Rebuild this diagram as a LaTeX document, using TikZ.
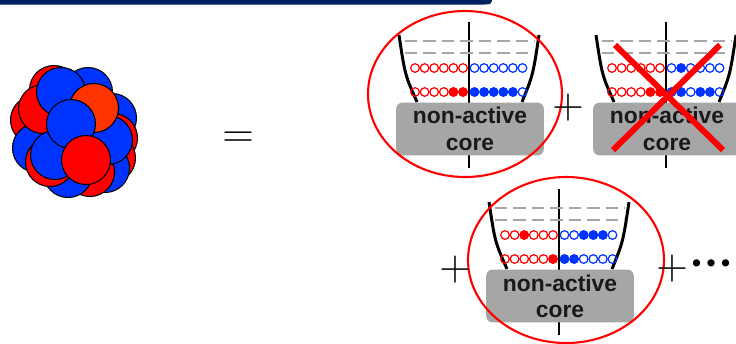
\documentclass[tikz,border=0pt]{standalone}
\usepackage{fontspec}
\setsansfont{Liberation Sans}
\newfontfamily\dotfont{DejaVu Sans}
\definecolor{navy}{RGB}{0,32,96}
\definecolor{nucred}{RGB}{255,0,0}
\definecolor{nucblue}{RGB}{0,51,255}
\definecolor{nucorange}{RGB}{255,51,0}
\definecolor{coregray}{RGB}{166,166,166}

% one configuration: oscillator wall, two open shells, inert core
% #1 name, #2/#3 top of the wall, #4..#7 occupations (red/blue upper, red/blue lower)
\newcommand{\config}[7]{%
  \coordinate (#1) at (#2,#3);
  \draw[axis] (#2,#3-13) -- (#2,#3+133);
  \draw[wall] (#2-70,#3) .. controls (#2-64,#3+40) .. (#2-52,#3+67);
  \draw[wall] (#2+70,#3) .. controls (#2+64,#3+40) .. (#2+53,#3+67);
  \draw[lvl] (#2-64,#3+6) -- (#2+66,#3+6);
  \draw[lvl] (#2-64,#3+18) -- (#2+66,#3+18);
  \foreach \f [count=\i from 0] in {#4} {
    \ifnum\f=1 \fill[nucred] (#2-54+\i*9.6,#3+33) circle (4.3); \fi
    \draw[rorb] (#2-54+\i*9.6,#3+33) circle (4.3);
  }
  \foreach \f [count=\i from 0] in {#5} {
    \ifnum\f=1 \fill[nucblue] (#2+5.5+\i*9.6,#3+33) circle (4.3); \fi
    \draw[borb] (#2+5.5+\i*9.6,#3+33) circle (4.3);
  }
  \foreach \f [count=\i from 0] in {#6} {
    \ifnum\f=1 \fill[nucred] (#2-54+\i*9.6,#3+57) circle (4.3); \fi
    \draw[rorb] (#2-54+\i*9.6,#3+57) circle (4.3);
  }
  \foreach \f [count=\i from 0] in {#7} {
    \ifnum\f=1 \fill[nucblue] (#2+5.5+\i*9.6,#3+57) circle (4.3); \fi
    \draw[borb] (#2+5.5+\i*9.6,#3+57) circle (4.3);
  }
  \node[core] (#1core) at (#2+1,#3+94) {non-active\\core};
}

\begin{document}
\begin{tikzpicture}[x=0.02cm, y=-0.02cm,
  nucleon/.style={draw=black, line width=0.6pt},
  axis/.style={line width=0.8pt, black},
  wall/.style={line width=1.7pt, black},
  lvl/.style={line width=1.3pt, coregray, dash pattern=on 7pt off 3.5pt},
  rorb/.style={draw=nucred, line width=0.7pt},
  borb/.style={draw=nucblue, line width=0.7pt},
  core/.style={fill=coregray, rounded corners=3.5pt, minimum width=84pt,
    minimum height=30pt, inner sep=0pt, align=center,
    font=\sffamily\bfseries\fontsize{13}{15}\selectfont, text=black!90},
  ring/.style={draw=nucred, line width=1.2pt},
  cross/.style={draw=nucred, line width=3.4pt},
  op/.style={inner sep=0pt, font=\fontsize{26}{26}\selectfont}
]
\useasboundingbox (0,0) rectangle (736,343);

% title bar edge
\fill[navy] (0,0) -- (492,0) .. controls (491,4.5) .. (482,4.5) -- (0,4.5) -- cycle;

% the nucleus, back to front
\foreach \c/\x/\y in {nucblue/88/92, nucred/54/90, nucred/35/120, nucblue/112/118,
    nucred/113/138, nucblue/37/148, nucred/111/158, nucblue/105/168, nucred/90/172,
    nucblue/68/173, nucred/50/162, nucred/43/109, nucblue/108/140, nucblue/61/92,
    nucorange/94/108, nucblue/55/155, nucblue/71/124, nucred/86/160}
  \draw[nucleon, fill=\c] (\x,\y) circle (24.5);

\node[op] (eq) at (238,140) {$=$};

\config{cA}{469}{35}{0,0,0,0,0,0}{0,0,0,0,0,0}{0,0,0,0,1,1}{1,1,1,1,1,0}
\config{cB}{666}{35}{0,0,0,0,0,0}{0,1,0,0,0,0}{0,0,0,0,1,1}{1,1,0,1,1,0}
\config{cC}{559}{202}{0,0,1,0,0,0}{0,0,1,1,1,0}{0,0,0,0,0,1}{1,1,0,0,0,0}

% allowed ones are circled, the forbidden one crossed out
\draw[ring] (465,94) ellipse [x radius=97, y radius=83];
\draw[ring] (566,260) ellipse [x radius=98, y radius=83];
\draw[cross] (615,45) -- (723,150);
\draw[cross] (720,45) -- (613,150);

\node[op] (plusA) at (568,108) {$+$};
\node[op] (plusB) at (455,270) {$+$};
\node[op] (plusC) at (672,269) {$+$};
\node[inner sep=0pt, font=\dotfont\fontsize{14}{14}\selectfont] (more) at (711,266) {•••};
\end{tikzpicture}
\end{document}
